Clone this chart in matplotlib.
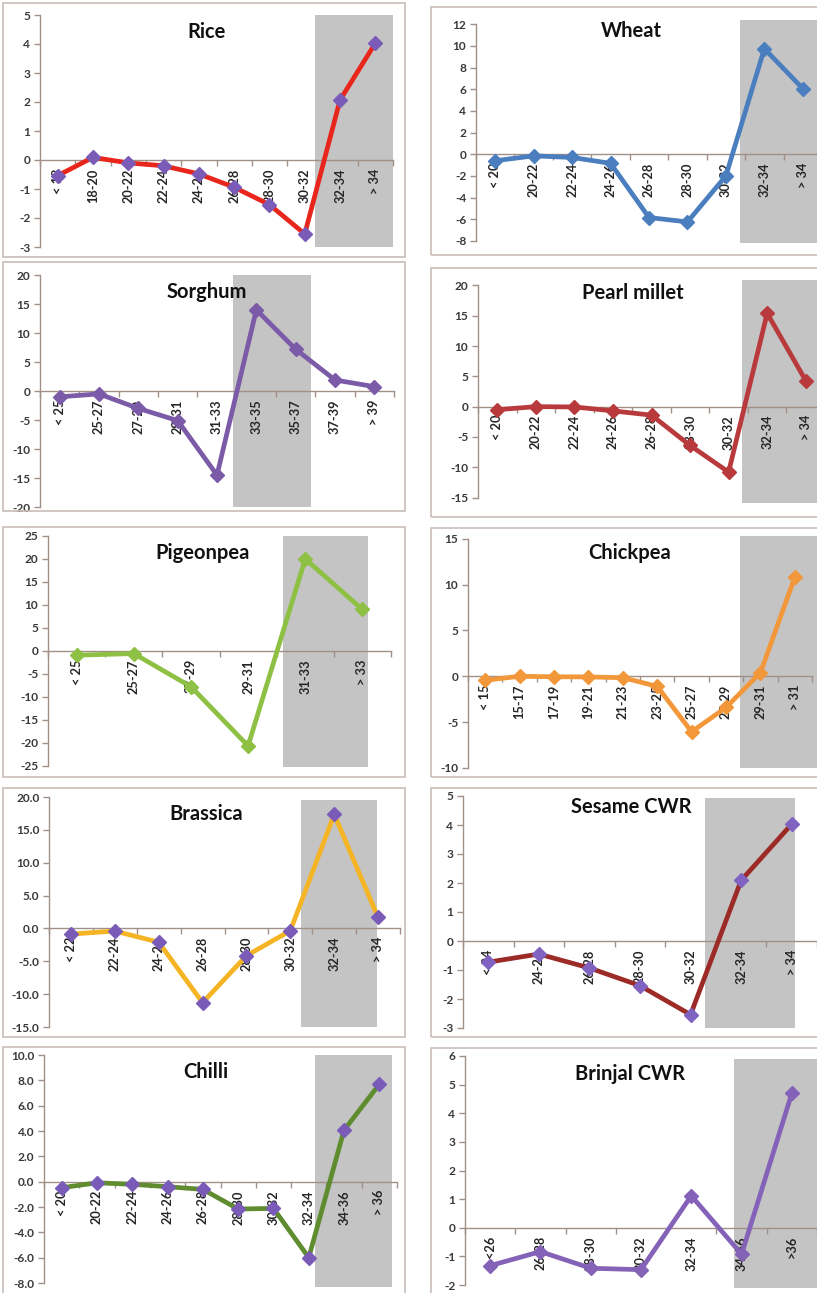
import matplotlib
matplotlib.use('Agg')
import matplotlib.pyplot as plt
from matplotlib.patches import Rectangle
from matplotlib.ticker import FormatStrFormatter
import numpy as np

W, H = 817, 1293

# ---------------- data ----------------
rice_cats = ['< 18', '18-20', '20-22', '22-24', '24-26', '26-28', '28-30', '30-32', '32-34', '> 34']
rice_vals = [-0.54, 0.09, -0.10, -0.20, -0.48, -0.94, -1.54, -2.55, 2.07, 4.03]

wheat_cats = ['< 20', '20-22', '22-24', '24-26', '26-28', '28-30', '30-32', '32-34', '> 34']
wheat_vals = [-0.60, -0.15, -0.30, -0.84, -5.85, -6.25, -2.0, 9.75, 6.07]

sorghum_cats = ['< 25', '25-27', '27-29', '29-31', '31-33', '33-35', '35-37', '37-39', '> 39']
sorghum_vals = [-1.0, -0.5, -3.0, -5.1, -14.5, 14.0, 7.2, 1.9, 0.75]

pearl_cats = ['< 20', '20-22', '22-24', '24-26', '26-28', '28-30', '30-32', '32-34', '> 34']
pearl_vals = [-0.5, 0.0, -0.05, -0.7, -1.4, -6.4, -10.8, 15.4, 4.3]

pigeon_cats = ['< 25', '25-27', '27-29', '29-31', '31-33', '> 33']
pigeon_vals = [-0.95, -0.6, -7.8, -20.7, 20.0, 9.0]

chickpea_cats = ['< 15', '15-17', '17-19', '19-21', '21-23', '23-25', '25-27', '27-29', '29-31', '> 31']
chickpea_vals = [-0.43, 0.0, -0.05, -0.07, -0.15, -1.1, -6.05, -3.4, 0.4, 10.8]

brassica_cats = ['< 22', '22-24', '24-26', '26-28', '28-30', '30-32', '32-34', '> 34']
brassica_vals = [-0.86, -0.4, -2.1, -11.3, -4.15, -0.35, 17.35, 1.67]

sesame_cats = ['< 24', '24-26', '26-28', '28-30', '30-32', '32-34', '> 34']
sesame_vals = [-0.73, -0.45, -0.93, -1.54, -2.54, 2.09, 4.03]

chilli_cats = ['< 20', '20-22', '22-24', '24-26', '26-28', '28-30', '30-32', '32-34', '34-36', '> 36']
chilli_vals = [-0.47, -0.08, -0.2, -0.39, -0.6, -2.15, -2.1, -5.98, 4.07, 7.7]

brinjal_cats = ['<26', '26-28', '28-30', '30-32', '32-34', '34-36', '>36']
brinjal_vals = [-1.32, -0.83, -1.41, -1.46, 1.12, -0.92, 4.7]

titles = ['Rice', 'Wheat', 'Sorghum', 'Pearl millet', 'Pigeonpea', 'Chickpea',
          'Brassica', 'Sesame CWR', 'Chilli', 'Brinjal CWR']

# ---------------- layout / style ----------------
panels = [
    dict(cats=rice_cats, vals=rice_vals, lc='#e8261c', mc='#7a5cb8', yt=(-3, 5, 1), fmt='%d',
         ax=(40, 393, 15, 247), shade=(7.3, 9.5, -3, 5), tpos=(207, 32), box=(3, 405, 3, 257)),
    dict(cats=wheat_cats, vals=wheat_vals, lc='#4a7ebf', mc='#4a7ebf', yt=(-8, 12, 2), fmt='%d',
         ax=(476, 822, 20, 243), shade=(6.36, 9.5, -8.2, 12.4), tpos=(631, 31), box=(431, 840, 7, 255)),
    dict(cats=sorghum_cats, vals=sorghum_vals, lc='#7b5aa8', mc='#7b5aa8', yt=(-20, 20, 5), fmt='%d',
         ax=(40, 394, 275, 507), shade=(4.4, 6.4, -20, 20), tpos=(207, 292), box=(3, 405, 262, 511)),
    dict(cats=pearl_cats, vals=pearl_vals, lc='#b93a3c', mc='#b93a3c', yt=(-15, 20, 5), fmt='%d',
         ax=(478, 825, 280, 503), shade=(6.34, 9.5, -15.9, 20.9), tpos=(633, 293), box=(431, 840, 268, 517)),
    dict(cats=pigeon_cats, vals=pigeon_vals, lc='#8dc043', mc='#8dc043', yt=(-25, 25, 5), fmt='%d',
         ax=(48, 391, 536, 767), shade=(3.61, 5.09, -25.3, 25), tpos=(203, 553), box=(3, 405, 527, 777)),
    dict(cats=chickpea_cats, vals=chickpea_vals, lc='#f2973a', mc='#f2973a', yt=(-10, 15, 5), fmt='%d',
         ax=(468, 812, 536, 768), shade=(7.42, 10.0, -10, 15.3), tpos=(630, 553), box=(431, 840, 528, 777)),
    dict(cats=brassica_cats, vals=brassica_vals, lc='#f4b424', mc='#7a5cb8', yt=(-15, 20, 5), fmt='%.1f',
         ax=(49, 400, 797, 1027), shade=(5.24, 6.98, -15, 19.6), tpos=(206, 814), box=(3, 405, 788, 1037)),
    dict(cats=sesame_cats, vals=sesame_vals, lc='#9c2a26', mc='#8062c0', yt=(-3, 5, 1), fmt='%d',
         ax=(463, 817, 796, 1028), shade=(4.29, 6.07, -3, 4.93), tpos=(631, 807), box=(431, 840, 788, 1037)),
    dict(cats=chilli_cats, vals=chilli_vals, lc='#5e8c2e', mc='#7a5cb8', yt=(-8, 10, 2), fmt='%.1f',
         ax=(44, 397, 1055, 1287), shade=(7.18, 9.36, -8.3, 10), tpos=(206, 1072), box=(3, 405, 1047, 1310)),
    dict(cats=brinjal_cats, vals=brinjal_vals, lc='#8462b8', mc='#8462b8', yt=(-2, 6, 1), fmt='%d',
         ax=(465, 817, 1056, 1288), shade=(4.85, 7.0, -2.1, 5.9), tpos=(630, 1074), box=(431, 840, 1048, 1310)),
]

AXC = '#a09088'
FONT = ['Lato', 'DejaVu Sans']
plt.rcParams['font.family'] = FONT

fig = plt.figure(figsize=(W / 100, H / 100), dpi=100)
fig.patch.set_facecolor('white')

for title, p in zip(titles, panels):
    bx0, bx1, by0, by1 = p['box']
    fig.add_artist(Rectangle((bx0 / W, 1 - by1 / H), (bx1 - bx0) / W, (by1 - by0) / H,
                             transform=fig.transFigure, fill=False,
                             edgecolor='#c9bdb7', linewidth=1.2))

    L, R, ytop, ybot = p['ax']
    ymin, ymax, ystep = p['yt']
    n = len(p['cats'])
    ax = fig.add_axes([L / W, 1 - ybot / H, (R - L) / W, (ybot - ytop) / H])
    ax.patch.set_alpha(0)
    ax.set_xlim(-0.5, n - 0.5)
    s0, s1, sy0, sy1 = p['shade']
    ax.set_ylim(min(ymin, sy0), max(ymax, sy1))

    ax.add_patch(Rectangle((s0, sy0), s1 - s0, sy1 - sy0, facecolor='#c4c4c4',
                           edgecolor='none', zorder=0.5, clip_on=False))

    x = np.arange(n)
    ax.plot(x, p['vals'], color=p['lc'], linewidth=3.4, zorder=4,
            marker='D', markersize=7, markerfacecolor=p['mc'], markeredgecolor=p['mc'])

    for i, c in enumerate(p['cats']):
        ax.annotate(c, xy=(i, 0), xytext=(0, -6), textcoords='offset points',
                    rotation=90, ha='center', va='top', fontsize=9.2,
                    fontweight='bold', color='#262626', zorder=2)

    for side in ('top', 'right'):
        ax.spines[side].set_visible(False)
    ax.spines['bottom'].set_position(('data', 0))
    ax.spines['left'].set_bounds(ymin, ymax)
    for side in ('left', 'bottom'):
        ax.spines[side].set_color(AXC)
        ax.spines[side].set_linewidth(1.0)
        ax.spines[side].set_zorder(1)

    ax.set_yticks(np.arange(ymin, ymax + ystep * 0.5, ystep))
    ax.yaxis.set_major_formatter(FormatStrFormatter(p['fmt']))
    ax.set_xticks(np.arange(-0.5, n, 1.0))
    ax.set_xticklabels([])
    ax.tick_params(axis='y', direction='out', length=4, width=1, color=AXC,
                   labelsize=8.6, labelcolor='#3a3a3a', pad=3)
    for lab in ax.get_yticklabels():
        lab.set_fontweight('bold')
    ax.tick_params(axis='x', direction='out', length=4, width=1, color=AXC)

    fig.text(p['tpos'][0] / W, 1 - p['tpos'][1] / H, title, ha='center', va='center',
             fontsize=14.5, fontweight='bold', color='#111111')

fig.savefig('out.png', dpi=100, facecolor='white')
